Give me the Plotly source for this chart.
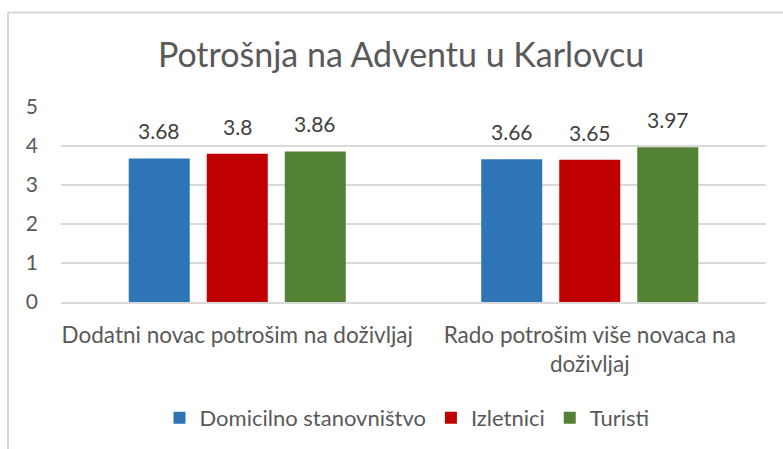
import plotly.graph_objects as go

categories = ["Dodatni novac potrošim na doživljaj", "Rado potrošim više novaca na<br>doživljaj"]
series_names = ["Domicilno stanovništvo", "Izletnici", "Turisti"]
domicilno = [3.68, 3.66]
izletnici = [3.80, 3.65]
turisti = [3.86, 3.97]
y_ticks = [0, 1, 2, 3, 4, 5]

colors = ["#2E75B6", "#C00000", "#548235"]
values = [domicilno, izletnici, turisti]

W, H = 783, 449
ml, mr, mt, mb = 61, 17, 107, 146
pw = W - ml - mr
ph = H - mt - mb

FONT = "Lato"
GRAY = "#595959"

fig = go.Figure()
for name, vals, col in zip(series_names, values, colors):
    fig.add_trace(go.Bar(name=name, x=categories, y=vals, marker=dict(color=col, line=dict(width=0))))

slot_px = 78
annotations = []
for i, vals in enumerate(values):
    for c, v in zip(categories, vals):
        annotations.append(dict(x=c, y=v, xref="x", yref="y", text=f"{v:g}", showarrow=False,
                                xshift=(i - 1) * slot_px, yshift=13, yanchor="bottom",
                                font=dict(family=FONT, size=21, color="#404040")))

def px_x(p):
    return (p - ml) / pw

def px_y(p):
    return (H - mb - p) / ph

shapes = [
    dict(type="line", xref="paper", yref="paper", x0=px_x(8), x1=px_x(8), y0=px_y(12), y1=px_y(460),
         line=dict(color="#d9d9d9", width=2)),
    dict(type="line", xref="paper", yref="paper", x0=px_x(8), x1=px_x(800), y0=px_y(12), y1=px_y(12),
         line=dict(color="#d9d9d9", width=2)),
]

fig.update_layout(
    width=W, height=H,
    margin=dict(l=ml, r=mr, t=mt, b=mb),
    paper_bgcolor="white", plot_bgcolor="white",
    barmode="group", bargap=0.336, bargroupgap=0.218,
    title=dict(text="Potrošnja na Adventu u Karlovcu", xref="container", x=401 / W, xanchor="center",
               yref="container", y=1 - 55 / H, yanchor="middle",
               font=dict(family=FONT, size=34, color=GRAY)),
    font=dict(family=FONT, color=GRAY),
    xaxis=dict(showgrid=False, showline=True, linecolor="#d9d9d9", linewidth=1.5, ticks="",
               tickfont=dict(family=FONT, size=22.5, color=GRAY), ticklabelstandoff=12),
    yaxis=dict(range=[0, 5], tickvals=y_ticks, showgrid=True, gridcolor="#d9d9d9", gridwidth=1.5,
               zeroline=False, showline=False, ticks="",
               tickfont=dict(family=FONT, size=21, color=GRAY), ticklabelstandoff=22),
    showlegend=True,
    legend=dict(orientation="h", x=px_x(407), xanchor="center", y=px_y(418), yanchor="middle",
                font=dict(family=FONT, size=22, color=GRAY), itemwidth=30, traceorder="normal"),
    annotations=annotations,
    shapes=shapes,
)

fig.write_html("out.html")
